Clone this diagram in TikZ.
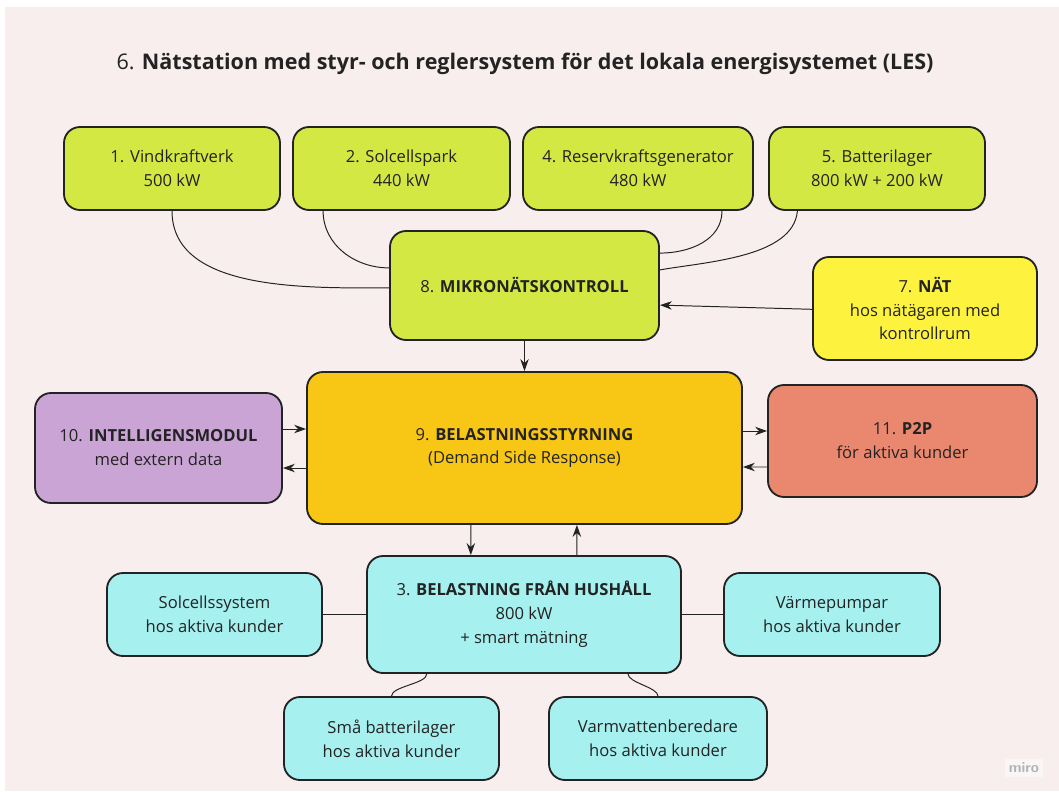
\documentclass[tikz,border=0pt]{standalone}
\usepackage{fontspec}
\setmainfont{Open Sans}
\usepackage{tikz}
\usetikzlibrary{arrows.meta,positioning}

\definecolor{bgpink}{RGB}{248,238,238}
\definecolor{limebox}{RGB}{211,232,66}
\definecolor{yellowbox}{RGB}{253,242,62}
\definecolor{orangebox}{RGB}{248,198,20}
\definecolor{purplebox}{RGB}{203,164,214}
\definecolor{salmonbox}{RGB}{233,136,110}
\definecolor{cyanbox}{RGB}{166,240,239}
\definecolor{inkline}{RGB}{35,35,35}

\begin{document}
\begin{tikzpicture}[
  box/.style={draw=inkline, line width=1.3pt, rounded corners=0.4cm, align=center,
    text=inkline, font=\fontsize{11.8}{17}\selectfont, inner sep=2pt},
  conn/.style={inkline, line width=0.7pt},
  arr/.style={inkline, line width=0.7pt, -{Stealth[length=8.5pt,width=6pt]}},
]
\useasboundingbox (0,0) rectangle (26.475,-19.775);
\fill[white] (0,0) rectangle (26.475,-19.775);
\fill[bgpink] (0.125,-0.175) rectangle (26.475,-19.775);

\node[text=inkline, font=\fontsize{15.3}{18}\selectfont] (title) at (13.125,-1.6)
  {6. \textbf{Nätstation med styr- och reglersystem för det lokala energisystemet (LES)}};

% produktion
\node[box, fill=limebox, minimum width=5.4cm, minimum height=2.075cm] (vind) at (4.3,-4.2125)
  {1. Vindkraftverk\\500 kW};
\node[box, fill=limebox, minimum width=5.425cm, minimum height=2.075cm] (sol) at (10.0375,-4.2125)
  {2. Solcellspark\\440 kW};
\node[box, fill=limebox, minimum width=5.75cm, minimum height=2.075cm] (reserv) at (15.95,-4.2125)
  {4. Reservkraftsgenerator\\480 kW};
\node[box, fill=limebox, minimum width=5.4cm, minimum height=2.075cm] (batt) at (21.925,-4.2125)
  {5. Batterilager\\800 kW + 200 kW};

\node[box, fill=limebox, minimum width=6.725cm, minimum height=2.725cm] (mikro) at (13.1125,-7.1375)
  {8. \textbf{MIKRONÄTSKONTROLL}};
\node[box, fill=yellowbox, minimum width=5.6cm, minimum height=2.575cm] (nat) at (23.125,-7.7125)
  {7. \textbf{NÄT}\\hos nätägaren med\\kontrollrum};

% styrning
\node[box, fill=orangebox, minimum width=10.875cm, minimum height=3.8cm] (belast) at (13.1125,-11.2)
  {9. \textbf{BELASTNINGSSTYRNING}\\(Demand Side Response)};
\node[box, fill=purplebox, minimum width=6.175cm, minimum height=2.75cm] (intel) at (3.9625,-11.2)
  {10. \textbf{INTELLIGENSMODUL}\\med extern data};
\node[box, fill=salmonbox, minimum width=6.725cm, minimum height=2.8cm] (ptp) at (22.5625,-11.025)
  {11. \textbf{P2P}\\för aktiva kunder};

% hushall
\node[box, fill=cyanbox, minimum width=7.85cm, minimum height=2.925cm] (hush) at (13.1,-15.3625)
  {3. \textbf{BELASTNING FRÅN HUSHÅLL}\\800 kW\\+ smart mätning};
\node[box, fill=cyanbox, minimum width=5.375cm, minimum height=2.075cm] (solsys) at (5.3625,-15.3625)
  {Solcellssystem\\hos aktiva kunder};
\node[box, fill=cyanbox, minimum width=5.4cm, minimum height=2.075cm] (varme) at (20.8,-15.3625)
  {Värmepumpar\\hos aktiva kunder};
\node[box, fill=cyanbox, minimum width=5.375cm, minimum height=2.075cm] (smabatt) at (9.7875,-18.4625)
  {Små batterilager\\hos aktiva kunder};
\node[box, fill=cyanbox, minimum width=5.45cm, minimum height=2.075cm] (varmvatten) at (16.45,-18.4625)
  {Varmvattenberedare\\hos aktiva kunder};

\node[fill=white!50!bgpink, text=black!30, font=\sffamily\bfseries\fontsize{10.5}{11}\selectfont,
  inner sep=3pt] (miro) at (25.6,-19.2) {miro};

% kopplingar till mikronatskontroll
\draw[conn] (vind.south) to[out=-90, in=180, looseness=0.9] ([yshift=-0.06cm]mikro.west);
\draw[conn] ([xshift=-1.96cm]sol.south) to[out=-90, in=180] ([yshift=0.44cm]mikro.west);
\draw[conn] ([xshift=2.1cm]reserv.south) to[out=-90, in=0] ([yshift=0.81cm]mikro.east);
\draw[conn] ([xshift=-1.99cm]batt.south) to[out=-95, in=10, looseness=0.8] ([yshift=0.39cm]mikro.east);
\draw[arr] ([yshift=-0.02cm]nat.west) -- ([yshift=-0.49cm]mikro.east);
\draw[arr] (mikro.south) -- (belast.north);

%\draw[very thin,color=gray] (0,0) grid (26,-19);
\draw[arr] ([yshift=0.475cm]intel.east) -- ([yshift=0.475cm]belast.west);
\draw[arr] ([yshift=-0.5cm]belast.west) -- ([yshift=-0.5cm]intel.east);
\draw[arr] ([yshift=0.425cm]belast.east) -- ([yshift=0.25cm]ptp.west);
\draw[arr] ([yshift=-0.65cm]ptp.west) -- ([yshift=-0.475cm]belast.east);
\draw[arr] ([xshift=-1.34cm]belast.south) -- ([xshift=-1.33cm]hush.north);
\draw[arr] ([xshift=1.32cm]hush.north) -- ([xshift=1.31cm]belast.south);

\draw[conn] (solsys.east) -- (hush.west);
\draw[conn] (hush.east) -- (varme.west);
\draw[conn] ([xshift=-2.43cm]hush.south) to[out=-90, in=90, looseness=0.6] (smabatt.north);
\draw[conn] ([xshift=2.6cm]hush.south) to[out=-90, in=90, looseness=0.6] (varmvatten.north);
\end{tikzpicture}
\end{document}
